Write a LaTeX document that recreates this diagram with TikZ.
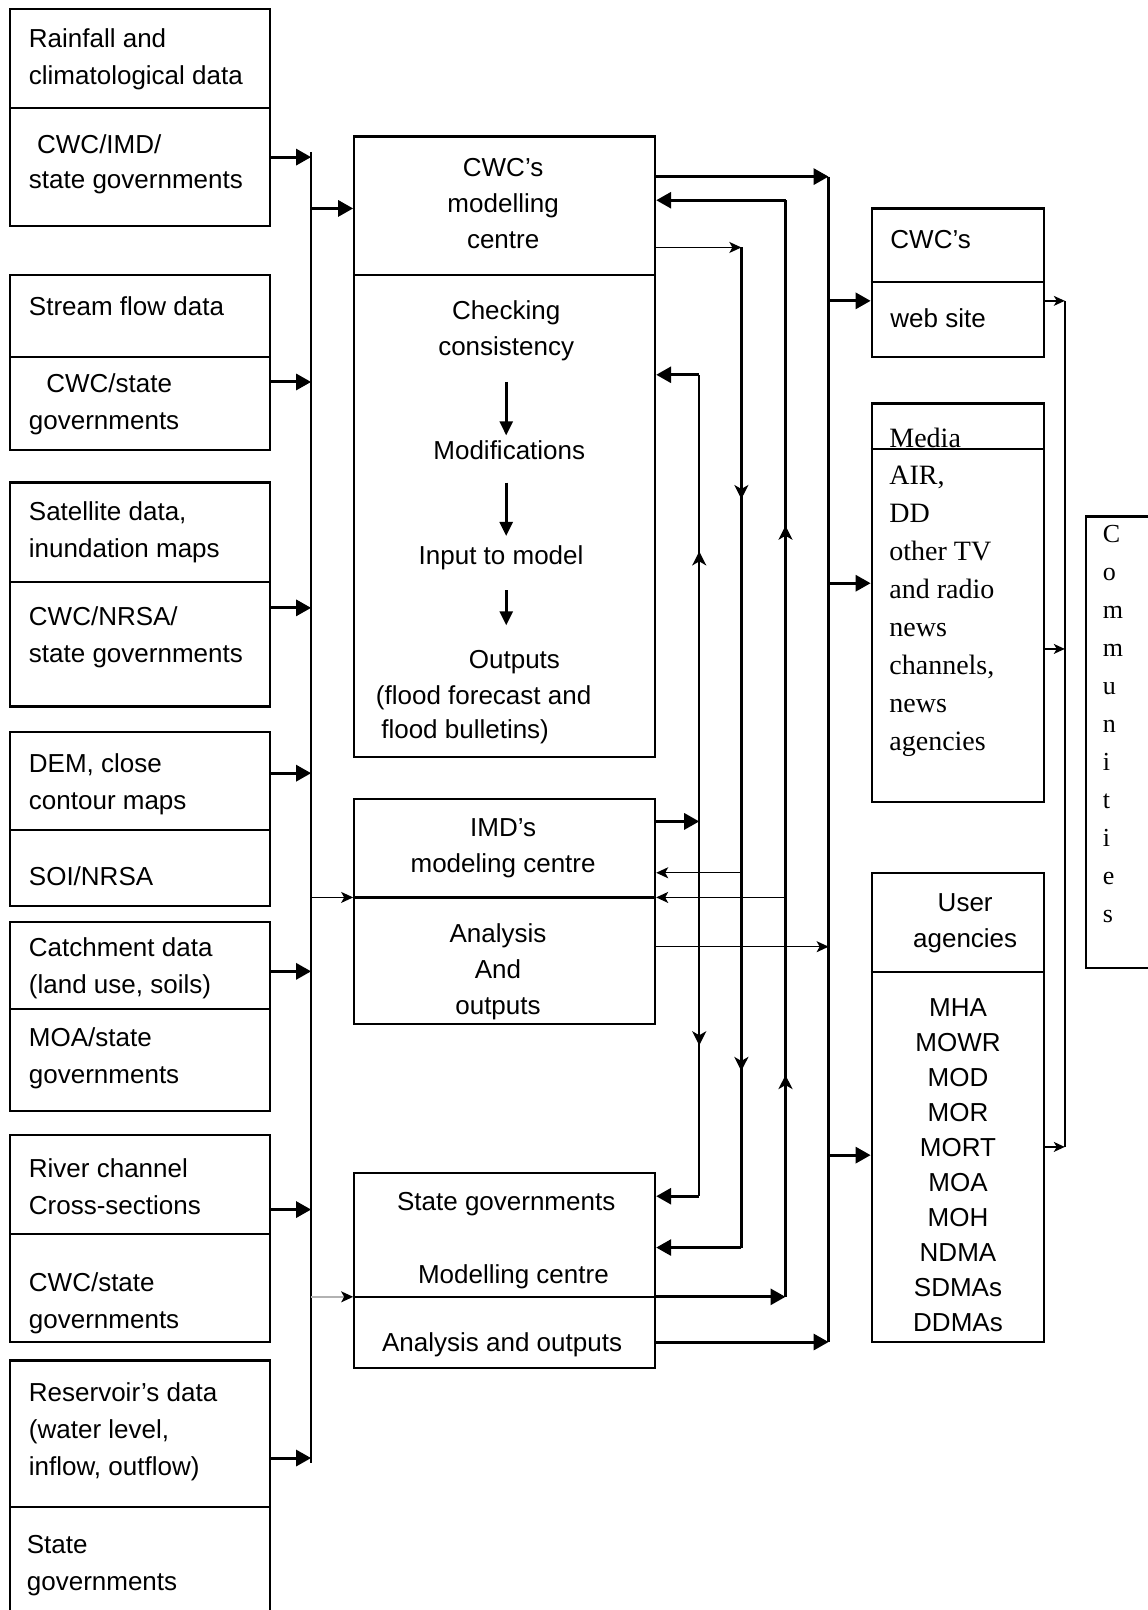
\documentclass[tikz,border=0pt]{standalone}
\usepackage{fontspec}
\setmainfont{Liberation Sans}
\newfontfamily\serifm{Liberation Serif}
\usetikzlibrary{arrows.meta,fit}
\begin{document}
\begin{tikzpicture}[x=1.0268pt,y=-1.0268pt,
  box/.style={draw,line width=2.2pt,inner sep=0pt},
  divl/.style={line width=2.2pt},
  txt/.style={font=\fontsize{26}{37}\selectfont,inner sep=0pt,anchor=west,align=left},
  ctxt/.style={font=\fontsize{26}{36}\selectfont,inner sep=0pt,align=center},
  stxt/.style={font=\serifm\fontsize{28}{38}\selectfont,inner sep=0pt,anchor=west,align=left},
  thk/.style={line width=3pt,-{Triangle[length=15pt,width=16pt]}},
  thn/.style={line width=1.4pt,-{Stealth[length=12pt,width=11pt,inset=3pt]}},
  sml/.style={line width=1.4pt,-{Stealth[length=11pt,width=10pt,inset=3pt]}},
  inar/.style={line width=2.6pt,-{Triangle[length=14pt,width=13pt]}},
  midar/.style={line width=2.4pt,-{Stealth[length=14pt,width=14pt,inset=4pt]}},
  vline/.style={line width=2.4pt},
]
\useasboundingbox (0,0) rectangle (1118,1568);
\clip (0,0) rectangle (1118,1568);

% ---------- left column ----------
\node[box,fit={(10,9)(263,220)}] (b1) {};
\draw[divl] (b1.west |- 0,105) -- (b1.east |- 0,105);
\node[txt] (b1a) at (28,58) {Rainfall and\\climatological data};
\node[txt] (b1b) at (36,140) {CWC/IMD/};
\node[txt] (b1c) at (28,178) {state governments};

\node[box,fit={(10,268)(263,438)}] (b2) {};
\draw[divl] (b2.west |- 0,348) -- (b2.east |- 0,348);
\node[txt] (b2a) at (28,298) {Stream flow data};
\node[txt] (b2b) at (45,373) {CWC/state};
\node[txt] (b2c) at (28,413) {governments};

\node[box,fit={(10,470)(263,688)}] (b3) {};
\draw[divl] (b3.west |- 0,567) -- (b3.east |- 0,567);
\node[txt] (b3a) at (28,518) {Satellite data,\\inundation maps};
\node[txt] (b3b) at (28,621) {CWC/NRSA/\\state governments};

\node[box,fit={(10,713)(263,882)}] (b4) {};
\draw[divl] (b4.west |- 0,808) -- (b4.east |- 0,808);
\node[txt] (b4a) at (28,764) {DEM, close\\contour maps};
\node[txt] (b4b) at (28,853) {SOI/NRSA};

\node[box,fit={(10,898)(263,1082)}] (b5) {};
\draw[divl] (b5.west |- 0,983) -- (b5.east |- 0,983);
\node[txt] (b5a) at (28,943) {Catchment data\\(land use, soils)};
\node[txt] (b5b) at (28,1031) {MOA/state\\governments};

\node[box,fit={(10,1105)(263,1307)}] (b6) {};
\draw[divl] (b6.west |- 0,1202) -- (b6.east |- 0,1202);
\node[txt] (b6a) at (28,1156) {River channel\\Cross-sections};
\node[txt] (b6b) at (28,1269) {CWC/state\\governments};

\node[box,fit={(10,1325)(263,1600)}] (b7) {};
\draw[divl] (b7.west |- 0,1468) -- (b7.east |- 0,1468);
\node[txt] (b7a) at (28,1394) {Reservoir's data\\(water level,\\inflow, outflow)};
\node[txt] (b7b) at (26,1525) {State\\governments};

% left bus
\coordinate (busT) at (303,148);
\coordinate (busB) at (303,1425);
\draw[vline] (busT) -- (busB);
\draw[thk] (b1.east |- 0,153) -- (busT |- 0,153);
\draw[thk] (b2.east |- 0,372) -- (busT |- 0,372);
\draw[thk] (b3.east |- 0,592) -- (busT |- 0,592);
\draw[thk] (b4.east |- 0,753) -- (busT |- 0,753);
\draw[thk] (b5.east |- 0,946) -- (busT |- 0,946);
\draw[thk] (b6.east |- 0,1178) -- (busT |- 0,1178);
\draw[thk] (b7.east |- 0,1420) -- (busT |- 0,1420);

% ---------- centre column ----------
\node[box,fit={(345,133)(638,737)}] (cwc) {};
\draw[divl] (cwc.west |- 0,268) -- (cwc.east |- 0,268);
\node[ctxt] (cwct) at (490,198) {CWC's\\modelling\\centre};
\node[ctxt] (chk) at (493,322) {Checking\\consistency};
\node[ctxt] (mod) at (496,438) {Modifications};
\node[ctxt] (inp) at (488,543) {Input to model};
\node[ctxt] (outa) at (501,645) {Outputs};
\node[ctxt] (outb) at (471,680) {(flood forecast and};
\node[ctxt] (outc) at (453,713) {flood bulletins)};
\coordinate (a1s) at (493,372); \coordinate (a1e) at (493,424);
\coordinate (a2s) at (493,470); \coordinate (a2e) at (493,522);
\coordinate (a3s) at (493,575); \coordinate (a3e) at (493,609);
\draw[inar] (a1s) -- (a1e);
\draw[inar] (a2s) -- (a2e);
\draw[inar] (a3s) -- (a3e);

\node[box,fit={(345,778)(638,997)}] (imd) {};
\draw[divl] (imd.west |- 0,874) -- (imd.east |- 0,874);
\node[ctxt] (imdt) at (490,826) {IMD's\\modeling centre};
\node[ctxt] (imdo) at (485,946) {Analysis\\And\\outputs};

\node[box,fit={(345,1142)(638,1332)}] (st) {};
\draw[divl] (st.west |- 0,1263) -- (st.east |- 0,1263);
\node[ctxt] (sta) at (493,1173) {State governments};
\node[ctxt] (stb) at (500,1243) {Modelling centre};
\node[ctxt] (stc) at (489,1310) {Analysis and outputs};

% inputs from left bus
\draw[thk] (busT |- 0,203) -- (cwc.west |- 0,203);
\draw[thn] (busT |- 0,874) -- (imd.west |- 0,874);
\draw[line width=1.4pt,gray!60,-{Stealth[length=12pt,width=11pt,inset=3pt,color=black]}] (busT |- 0,1263) -- (st.west |- 0,1263);

% ---------- vertical connectors ----------
\coordinate (v1t) at (681,365);  \coordinate (v1b) at (681,1165);
\coordinate (v2t) at (722,241);  \coordinate (v2b) at (722,1215);
\coordinate (v3t) at (765,195);  \coordinate (v3b) at (765,1263);
\coordinate (v4t) at (807,172);  \coordinate (v4b) at (807,1307);
\draw[vline] (v1t) -- (v1b);
\draw[vline] (v2t) -- (v2b);
\draw[vline] (v3t) -- (v3b);
\draw[vline] (v4t) -- (v4b);
% mid arrowheads
\draw[midar] (v1t |- 0,570) -- (v1t |- 0,537);
\draw[midar] (v1t |- 0,985) -- (v1t |- 0,1018);
\draw[midar] (v2t |- 0,455) -- (v2t |- 0,486);
\draw[midar] (v2t |- 0,1010) -- (v2t |- 0,1043);
\draw[midar] (v3t |- 0,545) -- (v3t |- 0,512);
\draw[midar] (v3t |- 0,1080) -- (v3t |- 0,1047);

% CWC box connections
\draw[thk] (cwc.east |- v4t) -- (v4t);
\draw[thk] (v3t) -- (cwc.east |- v3t);
\draw[thn] (cwc.east |- v2t) -- (v2t);
\draw[thk] (v1t) -- (cwc.east |- v1t);
% IMD box connections
\draw[thk] (imd.east |- 0,800) -- (v1t |- 0,800);
\draw[thn] (v2t |- 0,850) -- (imd.east |- 0,850);
\draw[thn] (v3t |- 0,874) -- (imd.east |- 0,874);
\draw[thn] (imd.east |- 0,922) -- (v4t |- 0,922);
% State box connections
\draw[thk] (v1b) -- (st.east |- v1b);
\draw[thk] (v2b) -- (st.east |- v2b);
\draw[thk] (st.east |- v3b) -- (v3b);
\draw[thk] (st.east |- v4b) -- (v4b);

% ---------- right column ----------
\node[box,fit={(849,203)(1017,348)}] (web) {};
\draw[divl] (web.west |- 0,275) -- (web.east |- 0,275);
\node[txt] (weba) at (867,233) {CWC's};
\node[txt] (webb) at (867,310) {web site};

\node[box,fit={(849,393)(1017,781)}] (med) {};
\draw[divl] (med.west |- 0,437) -- (med.east |- 0,437);
\node[stxt,anchor=base west] (meda) at (866,436) {Media};
\node[stxt] (medb) at (866,595) {AIR,\\DD\\other TV\\and radio\\news\\channels,\\news\\agencies};

\node[box,fit={(849,850)(1017,1307)}] (usr) {};
\draw[divl] (usr.west |- 0,947) -- (usr.east |- 0,947);
\node[ctxt] (usra) at (940,899) {User\\agencies};
\node[ctxt,font=\fontsize{26}{35}\selectfont] (usrb) at (933,1135) {MHA\\MOWR\\MOD\\MOR\\MORT\\MOA\\MOH\\NDMA\\SDMAs\\DDMAs};

\node[box,fit={(1058,503)(1140,943)}] (com) {};
\node[inner sep=0pt,anchor=west,align=left,font=\serifm\fontsize{26}{38}\selectfont] (comt) at (1074,705) {C\\o\\m\\m\\u\\n\\i\\t\\i\\e\\s};

% connections to right boxes
\draw[thk] (v4t |- 0,293) -- (web.west |- 0,293);
\draw[thk] (v4t |- 0,568) -- (med.west |- 0,568);
\draw[thk] (v4t |- 0,1125) -- (usr.west |- 0,1125);

\coordinate (rbt) at (1037,293);
\coordinate (rbb) at (1037,1117);
\draw[vline] (rbt) -- (rbb);
\draw[sml] (web.east |- rbt) -- (rbt);
\draw[sml] (med.east |- 0,632) -- (rbt |- 0,632);
\draw[sml] (usr.east |- rbb) -- (rbb);
\end{tikzpicture}
\end{document}
